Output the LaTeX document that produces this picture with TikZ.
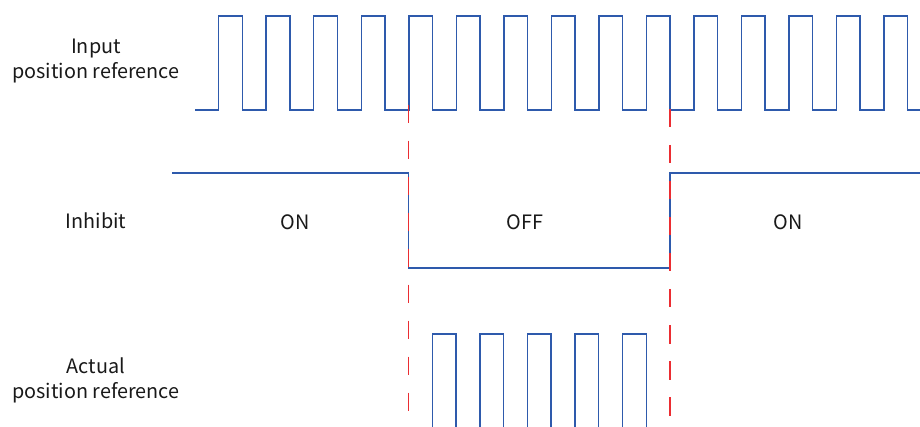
\documentclass[tikz,border=0pt]{standalone}
\usepackage{fontspec}
\setmainfont{Noto Sans CJK SC}
\definecolor{sigblue}{RGB}{46,90,172}
\definecolor{cutred}{RGB}{235,45,50}
\tikzset{
  sig/.style={draw=sigblue, line width=1.5pt, line join=miter},
  cut/.style={draw=cutred, line width=1.3pt, dash pattern=on 18.5pt off 17.5pt},
  lbl/.style={font=\fontsize{19.8}{25}\selectfont, align=center, text=black!90, inner sep=0pt}
}
\begin{document}
\begin{tikzpicture}[x=1pt,y=-1pt]
\useasboundingbox (0,0) rectangle (920,427);
\clip (0,0) rectangle (920,427);
% labels
\node[lbl] (inlbl) at (96,61) {Input\\position reference};
\node[lbl] (inhlbl) at (96,221) {Inhibit};
\node[lbl] (acllbl) at (96,380) {Actual\\position reference};
\node[lbl] (on1) at (295,222) {ON};
\node[lbl] (off) at (525,222) {OFF};
\node[lbl] (on2) at (788,222) {ON};
% input pulses
\draw[sig] (195,110) \foreach \k in {0,...,14}{ -- ({218.7+47.52*\k},110) -- ++(0,-94) -- ++(23.7,0) -- ++(0,94)} -- (920,110);
% inhibit
\coordinate (i0) at (172,173);
\coordinate (i1) at (408.5,173);
\coordinate (i2) at (408.5,268);
\coordinate (i3) at (670,268);
\coordinate (i4) at (670,173);
\coordinate (i5) at (920,173);
\draw[sig] (i0) -- (i1) -- (i2) -- (i3) -- (i4) -- (i5);
% actual pulses
\foreach \k in {4,...,8}{
  \draw[sig] ({242.4+47.52*\k},430) -- ({242.4+47.52*\k},334) -- ({266.1+47.52*\k},334) -- ({266.1+47.52*\k},430);
}
% cut lines
\coordinate (c1t) at (408.5,104.7);
\coordinate (c1b) at (408.5,411.2);
\coordinate (c2t) at (670,109);
\coordinate (c2b) at (670,415.5);
\draw[cut] (c1t) -- (c1b);
\draw[cut] (c2t) -- (c2b);
\end{tikzpicture}
\end{document}
